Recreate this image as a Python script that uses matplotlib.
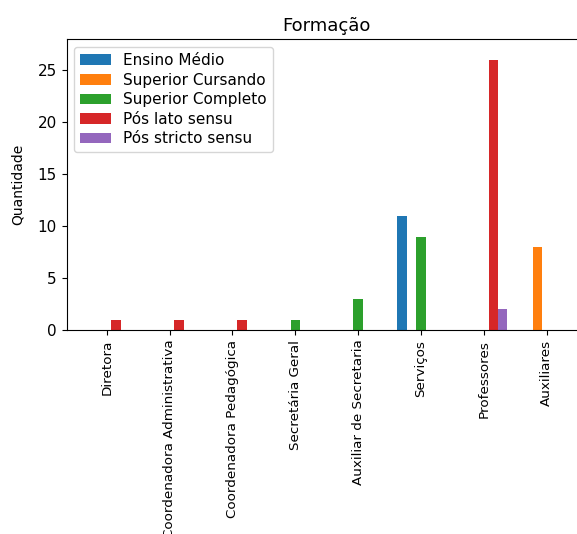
import matplotlib
matplotlib.use('Agg')
import matplotlib.pyplot as plt
import numpy as np

categorias = ['Diretora', 'Coordenadora Administrativa', 'Coordenadora Pedagógica',
              'Secretária Geral', 'Auxiliar de Secretaria', 'Serviços',
              'Professores', 'Auxiliares']
series = ['Ensino Médio', 'Superior Cursando', 'Superior Completo',
          'Pós lato sensu', 'Pós stricto sensu']
ensino_medio = [0, 0, 0, 0, 0, 11, 0, 0]
sup_cursando = [0, 0, 0, 0, 0, 0, 0, 8]
sup_completo = [0, 0, 0, 1, 3, 9, 0, 0]
pos_lato = [1, 1, 1, 0, 0, 0, 26, 0]
pos_stricto = [0, 0, 0, 0, 0, 0, 2, 0]
valores = [ensino_medio, sup_cursando, sup_completo, pos_lato, pos_stricto]

fig = plt.figure(figsize=(5.77, 5.34), dpi=100)
ax = fig.add_axes([66.7/577, 204/534, 520/577, 290.7/534])

x = np.arange(len(categorias))
w = 0.15
for i, (nome, vals) in enumerate(zip(series, valores)):
    ax.bar(x + (i - 2)*w, vals, w, label=nome)

ax.set_xticks(x)
ax.set_xticklabels(categorias, rotation=90, fontsize=9.7)
ax.tick_params(axis='y', labelsize=11)
ax.set_xlim(-0.636, 7.636)
ax.set_ylim(0, 28)
ax.set_ylabel('Quantidade', fontsize=10, labelpad=9)
ax.set_title('Formação', fontsize=13)
ax.legend(loc='upper left', fontsize=11, labelspacing=0.3)

fig.savefig('out.png', dpi=100)
